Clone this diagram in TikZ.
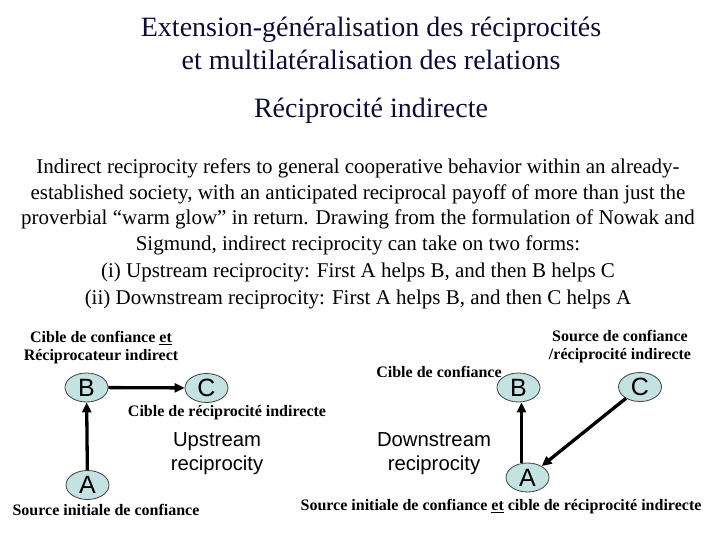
\documentclass[tikz,border=0pt]{standalone}
\usepackage{fontspec}
\setmainfont{Liberation Serif}
\newfontfamily\arialf{Liberation Sans}
\usetikzlibrary{shapes.geometric,arrows.meta}
\definecolor{titlecol}{rgb}{0.05,0.05,0.2}
\definecolor{ellfill}{HTML}{C4E2E2}
\definecolor{ellline}{HTML}{404040}
\tikzset{
  agent/.style={ellipse,draw=ellline,line width=0.8pt,fill=ellfill,minimum width=43pt,minimum height=29pt,inner sep=0pt,font=\arialf\fontsize{25}{25}\selectfont},
  lab/.style={font=\bfseries\fontsize{16}{18}\selectfont,align=center,inner sep=0pt},
  kind/.style={font=\arialf\fontsize{20.3}{24}\selectfont,align=center,inner sep=0pt},
  helparrow/.style={line width=3.3pt,-{Triangle[length=10pt,width=9pt]}},
}
\begin{document}
\begin{tikzpicture}[x=1pt,y=-1pt]
\useasboundingbox (0,0) rectangle (720,540);
\node[font=\fontsize{28}{33}\selectfont,text=titlecol,align=center,inner sep=0pt] (title) at (371,43) {Extension-généralisation des réciprocités\\et multilatéralisation des relations};
\node[font=\fontsize{28}{30}\selectfont,text=titlecol,inner sep=0pt] (sub) at (371,111) {Réciprocité indirecte};
\node[font=\fontsize{21}{25.7}\selectfont,align=center,inner sep=0pt] (para) at (358,207) {Indirect reciprocity refers to general cooperative behavior within an already-\\established society, with an anticipated reciprocal payoff of more than just the\\proverbial “warm glow” in return. Drawing from the formulation of Nowak and\\Sigmund, indirect reciprocity can take on two forms:};
\node[font=\fontsize{21}{25}\selectfont,inner sep=0pt] (up) at (358,272) {(i) Upstream reciprocity: First A helps B, and then B helps C};
\node[font=\fontsize{21}{25}\selectfont,inner sep=0pt] (down) at (358,299) {(ii) Downstream reciprocity: First A helps B, and then C helps A};

% upstream
\node[agent] (uB) at (86.5,387.5) {B};
\node[agent] (uC) at (206.5,388) {C};
\node[agent] (uA) at (87.5,485) {A};
\draw[helparrow] (uB) -- (uC);
\draw[helparrow] (uA) -- (uB);
\node[lab] (uBlab) at (101,348) {Cible de confiance \underline{et}\\Réciprocateur indirect};
\node[lab] (uClab) at (227,413) {Cible de réciprocité indirecte};
\node[lab] (uAlab) at (106,510) {Source initiale de confiance};
\node[kind] (ukind) at (217,454) {Upstream\\reciprocity};

% downstream
\node[agent] (dB) at (518.5,387.5) {B};
\node[agent] (dC) at (640,387) {C};
\node[agent] (dA) at (527.5,477.5) {A};
\draw[helparrow] (dA.north -| 521.5,0) -- (dB.south -| 521.5,0);
\draw[helparrow] (dC) -- (dA);
\node[lab] (dBlab) at (439,372) {Cible de confiance};
\node[lab] (dClab) at (620,347) {Source de confiance\\/réciprocité indirecte};
\node[lab] (dAlab) at (501,507) {Source initiale de confiance \underline{et} cible de réciprocité indirecte};
\node[kind] (dkind) at (434,454) {Downstream\\reciprocity};
\end{tikzpicture}
\end{document}
